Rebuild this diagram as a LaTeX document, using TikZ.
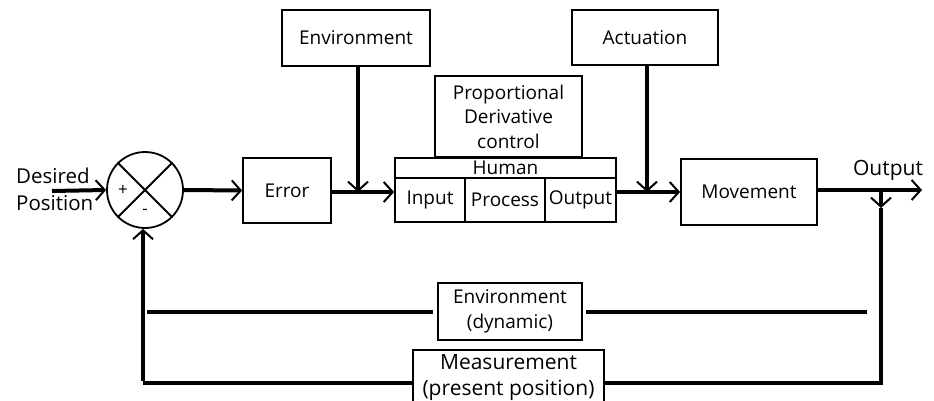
\documentclass[tikz,border=0pt]{standalone}
\usepackage{fontspec}
\setmainfont{Open Sans}
\usetikzlibrary{arrows.meta,calc}
\tikzset{
  box/.style={draw, line width=1.8pt, inner sep=0pt, align=center, font=\fontsize{19}{24.5}\selectfont},
  thk/.style={line width=4pt},
  arr/.style={line width=4pt, -{Straight Barb[length=9pt,width=20pt,line width=2pt 0]}},
  lbl/.style={inner sep=0pt, font=\fontsize{20.5}{27}\selectfont},
  sgn/.style={inner sep=0pt, font=\fontsize{17}{17}\selectfont},
}
\begin{document}
\begin{tikzpicture}[x=1pt,y=-1pt]
\useasboundingbox (0,0) rectangle (934,401);
\clip (0,0) rectangle (934,401);
% boxes
\node[box, minimum width=148pt, minimum height=56pt] (env) at (356,38) {Environment};
\node[box, minimum width=146pt, minimum height=55pt] (act) at (645,37.5) {Actuation};
\node[box, minimum width=147pt, minimum height=81pt] (pd) at (508.5,116.5) {Proportional\\Derivative\\control};
\node[box, minimum width=221pt, minimum height=20pt] (hum) at (505.5,168) {Human};
\node[box, minimum width=70pt, minimum height=44pt] (inp) at (430,200) {Input};
\node[box, minimum width=80pt, minimum height=44pt] (proc) at (505,200) {Process};
\node[box, minimum width=71pt, minimum height=44pt] (outc) at (580.5,200) {Output};
\node[box, minimum width=88pt, minimum height=65pt] (err) at (287,190.5) {Error};
\node[box, minimum width=136pt, minimum height=66pt] (mov) at (749,192) {Movement};
\node[box, minimum width=144pt, minimum height=57pt, font=\fontsize{19}{25}\selectfont] (envd) at (510,311.5) {Environment\\(dynamic)};
\node[box, minimum width=191pt, minimum height=56pt, font=\fontsize{21}{26}\selectfont] (meas) at (508.5,378) {Measurement\\(present position)};
% summing junction
\node[draw, circle, line width=1.8pt, minimum size=76pt, inner sep=0pt] (sum) at (145,190) {};
\draw[line width=1.8pt] (sum.45) -- (sum.225) (sum.135) -- (sum.315);
\node[sgn] (plus) at (123,190) {+};
\node[sgn] (minus) at (145,212) {-};
% labels
\node[lbl, anchor=base west] (des) at (16,183) {Desired};
\node[lbl, anchor=base west] (pos) at (16,210) {Position};
\node[lbl, anchor=south, font=\fontsize{21}{21}\selectfont] (outl) at (888,181) {Output};
% coordinates
\coordinate (dstart) at (52,191);
\coordinate (jEnv) at (358,192);
\coordinate (jAct) at (647,192);
\coordinate (oend) at (922,190);
\coordinate (jOut) at (881,190);
\coordinate (jOutA) at (881,208);
\coordinate (br) at (881,383);
\coordinate (bl) at (143,383);
\coordinate (dl) at (147,312);
\coordinate (dr) at (867,312);
% forward path
\draw[arr] (dstart) -- (sum.west);
\draw[arr] (sum.east) -- (err.west);
\draw[arr] (err.east |- jEnv) -- (inp.west |- jEnv);
\draw[arr] (outc.east |- jAct) -- (mov.west |- jAct);
\draw[arr] (mov.east |- oend) -- (oend);
\draw[arr] (env.south -| jEnv) -- (jEnv);
\draw[arr] (act.south -| jAct) -- (jAct);
% feedback
\draw[arr] (jOut) -- (jOutA);
\draw[thk] (jOutA) -- (br) -- ([xshift=-1pt]meas.east |- br);
\draw[thk] (meas.west |- bl) -- (bl);
\draw[arr] ([yshift=2pt]bl) -- (sum.south -| bl);
\draw[thk] (dl) -- ([xshift=-4pt]envd.west |- dl);
\draw[thk] ([xshift=3pt]envd.east |- dr) -- (dr);
\end{tikzpicture}
\end{document}
